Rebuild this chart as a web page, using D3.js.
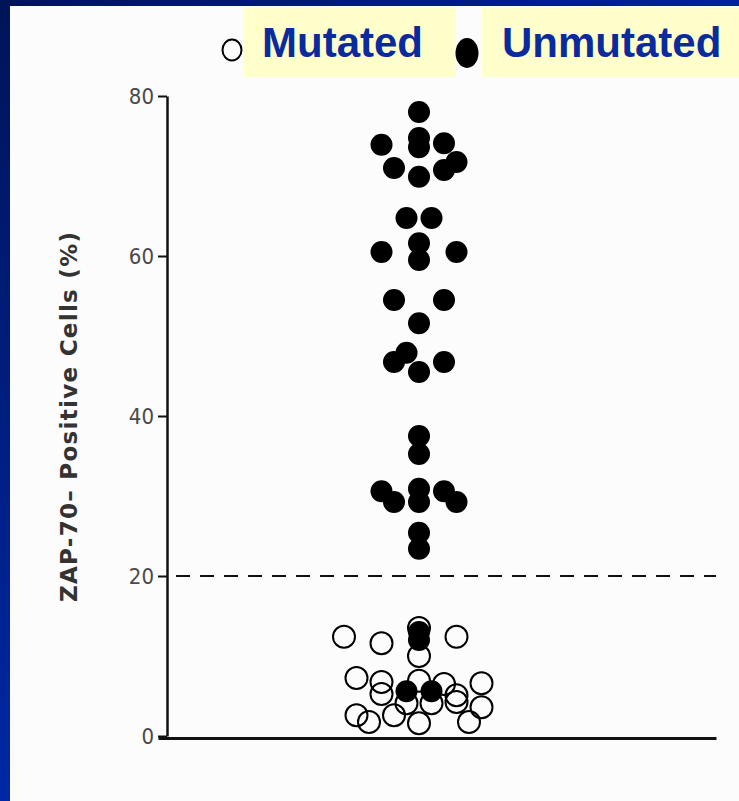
<!DOCTYPE html>
<html>
<head>
<meta charset="utf-8">
<script src="https://cdn.jsdelivr.net/npm/d3@7"></script>
<style>
  html, body { margin: 0; padding: 0; background: #fcfcfc; }
  svg { display: block; }
</style>
</head>
<body>
<svg id="chart" width="739" height="801"></svg>
<script>
// ---- data ----
const legendLabels = ["Mutated", "Unmutated"];
const yTicks = [0, 20, 40, 60, 80];
const yLabel = "ZAP-70\u2013 Positive Cells (%)";
const cutoffValue = 20;

// Unmutated (filled) : ZAP-70 % and dot-plot column slot
const unmutatedValues = [78, 73.9, 74.75, 73.6, 74.1, 71.75, 70.75, 71, 69.9,
  64.75, 64.75, 60.5, 61.6, 59.5, 60.5,
  54.5, 54.5, 51.6,
  46.75, 47.9, 45.5, 46.75,
  37.5, 35.25,
  30.6, 29.25, 30.9, 29.25, 30.6, 29.25,
  25.4, 23.4,
  13, 12, 5.6, 5.6];
const unmutatedSlots = [0, -3, 0, 0, 2, 3, 2, -2, 0,
  -1, 1, -3, 0, 0, 3,
  -2, 2, 0,
  -2, -1, 0, 2,
  0, 0,
  -3, -2, 0, 0, 2, 3,
  0, 0,
  0, 0, -1, 1];

// Mutated (open)
const mutatedValues = [12.4, 11.6, 12.4, 13.5, 10.0,
  7.25, 6.75, 5.25, 6.9, 6.5, 6.6,
  4.25, 3.6, 1.75, 2.6, 1.75, 2.6, 1.6, 4.1, 4.1, 5.1];
const mutatedSlots = [-6, -3, 3, 0, 0,
  -5, -3, -3, 0, 2, 5,
  3, 5, 4, -5, -4, -2, 0, -1, 1, 3];

// ---- drawing ----
const svg = d3.select("#chart");
const W = 739, H = 801;

const defs = svg.append("defs");
const gTop = defs.append("linearGradient").attr("id", "bgTop")
  .attr("x1", "0").attr("y1", "0").attr("x2", "1").attr("y2", "0");
gTop.append("stop").attr("offset", "0").attr("stop-color", "#001458");
gTop.append("stop").attr("offset", "1").attr("stop-color", "#0022a0");
const gLeft = defs.append("linearGradient").attr("id", "bgLeft")
  .attr("x1", "0").attr("y1", "0").attr("x2", "0").attr("y2", "1");
gLeft.append("stop").attr("offset", "0").attr("stop-color", "#001458");
gLeft.append("stop").attr("offset", "1").attr("stop-color", "#0028a6");

svg.append("rect").attr("width", W).attr("height", H).attr("fill", "#fcfcfc");
svg.append("rect").attr("x", 0).attr("y", 0).attr("width", W).attr("height", 6).attr("fill", "url(#bgTop)");
svg.append("rect").attr("x", 0).attr("y", 0).attr("width", 10).attr("height", H).attr("fill", "url(#bgLeft)");

// scales
const y = d3.scaleLinear().domain([0, 80]).range([736, 96]);
const slot = d3.scaleLinear().domain([-6, 6]).range([344, 494]);
const xLine = d3.scaleLinear().domain([0, 1]).range([158, 716]);
const axisX = 167;
const r = 11;

// legend
const legend = svg.append("g");
legend.append("rect").attr("x", 244).attr("y", 7).attr("width", 212).attr("height", 70).attr("fill", "#ffffcc");
legend.append("rect").attr("x", 482).attr("y", 7).attr("width", 257).attr("height", 70).attr("fill", "#ffffcc");
legend.append("text").attr("x", 262).attr("y", 57).text(legendLabels[0])
  .attr("font-family", "'Liberation Sans', Arial, sans-serif").attr("font-weight", "bold")
  .attr("font-size", 42).attr("fill", "#0a2b9e");
legend.append("text").attr("x", 502).attr("y", 57).text(legendLabels[1])
  .attr("font-family", "'Liberation Sans', Arial, sans-serif").attr("font-weight", "bold")
  .attr("font-size", 42).attr("fill", "#0a2b9e");
legend.append("ellipse").attr("cx", 232).attr("cy", 50).attr("rx", 9.5).attr("ry", 10.5)
  .attr("fill", "none").attr("stroke", "#000").attr("stroke-width", 2);
legend.append("ellipse").attr("cx", 467).attr("cy", 53).attr("rx", 11.5).attr("ry", 15)
  .attr("fill", "#000");

// y axis
const yAxis = svg.append("g").attr("transform", `translate(${axisX},0)`)
  .call(d3.axisLeft(y).tickValues(yTicks).tickSize(9).tickSizeOuter(0).tickPadding(4));
yAxis.select(".domain").attr("stroke", "#111").attr("stroke-width", 2.5);
yAxis.selectAll(".tick line").attr("stroke", "#111").attr("stroke-width", 2);
yAxis.selectAll(".tick text")
  .attr("font-family", "'DejaVu Sans Condensed', 'DejaVu Sans', sans-serif")
  .attr("font-size", 22).attr("fill", "#4a4a4a");

// x axis baseline
const xAxis = svg.append("g").attr("transform", `translate(0,${y(0) + 2})`)
  .call(d3.axisBottom(xLine).ticks(0).tickSizeOuter(0));
xAxis.select(".domain").attr("stroke", "#111").attr("stroke-width", 3);

// y label
svg.append("text")
  .attr("transform", `translate(77,${(232 + 602) / 2}) rotate(-90)`)
  .attr("text-anchor", "middle")
  .attr("font-family", "'DejaVu Sans', sans-serif").attr("font-weight", "bold")
  .attr("font-size", 23).attr("fill", "#333")
  .attr("textLength", 370).attr("lengthAdjust", "spacing")
  .text(yLabel);

// cutoff dashed line
svg.append("line")
  .attr("x1", 176).attr("x2", 716)
  .attr("y1", y(cutoffValue)).attr("y2", y(cutoffValue))
  .attr("stroke", "#111").attr("stroke-width", 2).attr("stroke-dasharray", "14,10");

// points
const mutated = mutatedValues.map((v, i) => ({ v, s: mutatedSlots[i] }));
const unmutated = unmutatedValues.map((v, i) => ({ v, s: unmutatedSlots[i] }));

svg.append("g").selectAll("circle").data(mutated).join("circle")
  .attr("cx", d => slot(d.s)).attr("cy", d => y(d.v)).attr("r", r)
  .attr("fill", "none").attr("stroke", "#000").attr("stroke-width", 2);

svg.append("g").selectAll("circle").data(unmutated).join("circle")
  .attr("cx", d => slot(d.s)).attr("cy", d => y(d.v)).attr("r", r)
  .attr("fill", "#000");
</script>
</body>
</html>
